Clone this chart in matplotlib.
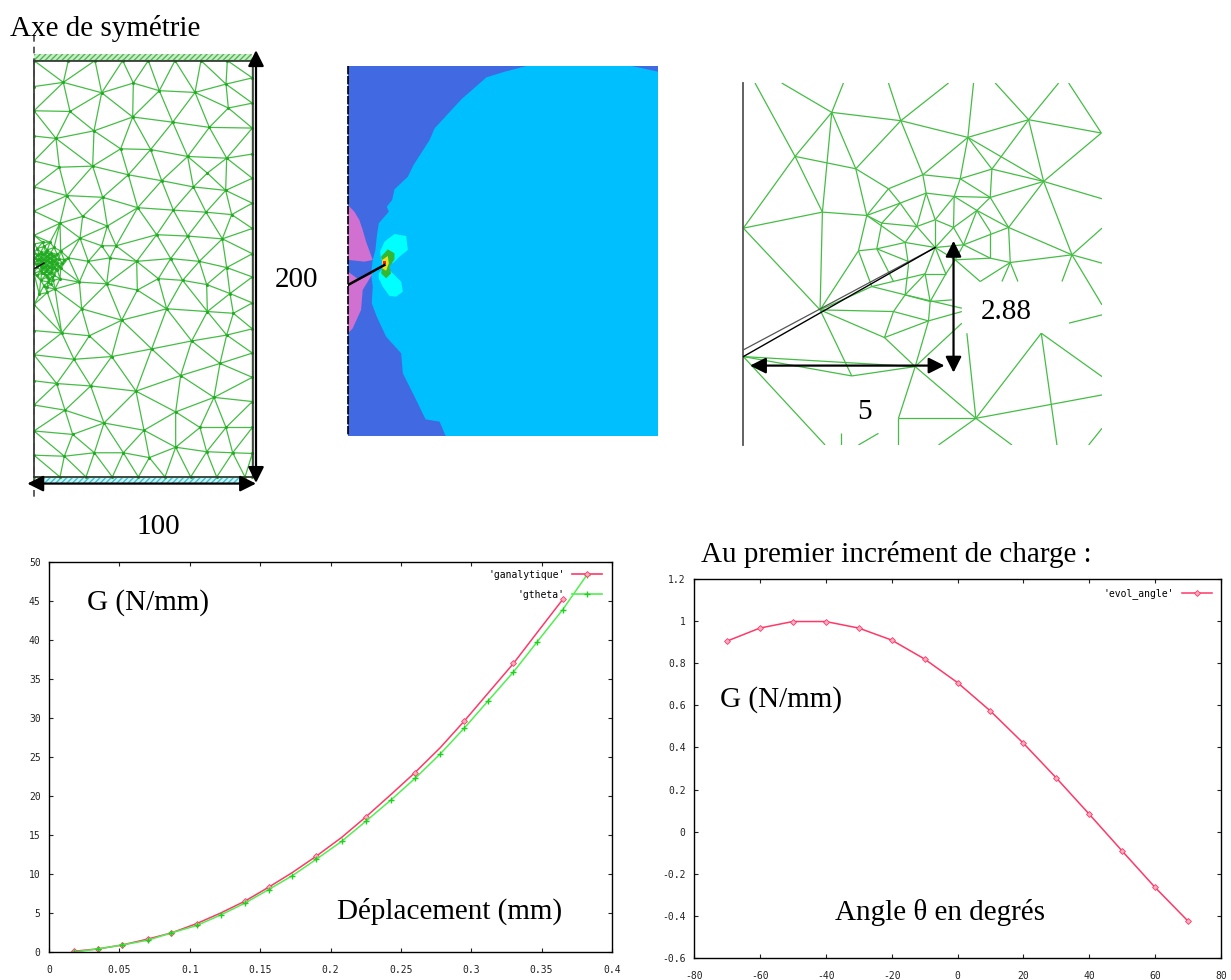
import matplotlib
matplotlib.use("Agg")
import matplotlib.pyplot as plt
import matplotlib.tri as mtri
from matplotlib.collections import LineCollection
from matplotlib.lines import Line2D
from matplotlib.patches import Rectangle

plt.rcParams["axes.unicode_minus"] = False

W, H = 1231, 980
SERIF = "Liberation Serif"
MONO = "DejaVu Sans Mono"
MESH_GREEN = "#45bd45"

# full mesh, nodes
mesh1_x = [102, 205, 285, 368, 445, 525, 603, 682, 757,
           102, 180, 258, 337, 415, 495, 572, 650, 735, 757,
           102, 102, 102, 102, 102, 102, 102, 102, 102, 102, 102, 102, 102, 102,
           757, 757, 757, 757, 757, 757, 757, 757, 757, 757, 757, 757, 757, 757, 757, 757,
           190, 305, 400, 478, 585, 678, 210, 398, 518, 628, 685, 282, 168, 362, 452, 563, 680,
           178, 278, 385, 485, 580, 677, 622, 200, 308, 413, 520, 618, 695, 180, 248, 322, 470,
           563, 667, 240, 348, 305, 265, 410, 512, 598, 680, 330, 320, 238, 180, 475, 548, 620,
           690, 412, 245, 500, 622, 700, 365, 575, 680, 185, 268, 455, 335, 222, 660, 542, 170,
           272, 408, 642, 195, 527, 312, 432, 678, 600, 218, 283, 370, 448, 527, 620, 698, 193]
mesh1_y = [175, 175, 175, 175, 175, 175, 175, 175, 175,
           1378, 1378, 1378, 1378, 1378, 1378, 1378, 1378, 1378, 1378,
           250, 320, 393, 465, 540, 610, 680, 880, 955, 1025, 1100, 1170, 1245, 1315,
           225, 298, 370, 445, 515, 587, 660, 733, 800, 875, 950, 1020, 1090, 1160, 1235, 1310,
           238, 268, 240, 262, 267, 243, 322, 338, 353, 368, 312, 378, 400, 430, 432, 452, 457,
           483, 480, 505, 522, 540, 550, 500, 565, 570, 600, 607, 613, 620, 645, 625, 653, 678,
           682, 690, 688, 710, 710, 755, 755, 747, 755, 773, 745, 820, 815, 805, 805, 810, 822,
           848, 838, 892, 892, 900, 905, 925, 985, 968, 962, 970, 1008, 1030, 1038, 1050, 1085, 1108,
           1115, 1130, 1148, 1185, 1190, 1222, 1243, 1235, 1235, 1255, 1308, 1308, 1322, 1292, 1305, 1308, 1318]
# refined patch round the crack tip
crack_x = [102, 102, 102, 102, 112, 112, 112, 112, 112, 122, 122, 122, 122, 122, 122, 132, 132, 132, 132,
           132, 132, 132, 142, 142, 142, 142, 142, 142, 142, 152, 152, 152, 152, 152, 152, 162, 162, 162,
           162, 162, 172, 172, 172, 182, 182, 192, 205, 150, 128, 165, 118, 140, 160,
           106, 110, 117, 117, 117, 127, 127, 127, 137, 137, 137, 137, 137, 147, 147, 147, 147, 147, 157, 157,
           157, 157, 167, 167, 167, 177, 177, 187, 127, 137, 147, 157, 125, 145]
crack_y = [705, 730, 760, 790, 718, 738, 752, 770, 795, 728, 742, 755, 768, 782, 810, 712, 735, 748, 760,
           772, 790, 825, 722, 740, 752, 765, 778, 800, 845, 730, 745, 758, 770, 785, 820, 715, 740, 755,
           770, 795, 735, 760, 780, 725, 775, 750, 745, 700, 700, 835, 850, 830, 810,
           745, 762, 735, 748, 762, 735, 750, 762, 728, 742, 755, 768, 782, 735, 746, 758, 771, 790, 738, 750,
           763, 778, 748, 763, 778, 748, 768, 760, 775, 795, 805, 800, 790, 815]

# zoomed mesh round the crack, one row per edge: x1, y1, x2, y2
mesh3_edges = [
    (60, 25, 180, 245), (140, 25, 290, 113), (325, 25, 290, 113), (460, 25, 497, 138), (640, 25, 497, 138),
    (715, 25, 698, 188), (780, 25, 880, 135), (970, 25, 880, 135), (1000, 25, 1098, 175), (290, 113, 497, 138),
    (497, 138, 698, 188), (698, 188, 880, 135), (880, 135, 1098, 175), (290, 113, 262, 412), (290, 113, 362, 282),
    (180, 245, 290, 113), (180, 245, 362, 282), (180, 245, 262, 412), (180, 245, 25, 460), (25, 460, 262, 412),
    (25, 460, 255, 705), (262, 412, 395, 422), (262, 412, 255, 705), (362, 282, 395, 422), (362, 282, 460, 342),
    (497, 138, 362, 282), (497, 138, 563, 300), (563, 300, 460, 342), (563, 300, 675, 312), (563, 300, 698, 188),
    (563, 300, 573, 355), (698, 188, 675, 312), (698, 188, 770, 283), (698, 188, 925, 320), (880, 135, 770, 283),
    (880, 135, 925, 320), (1098, 175, 925, 320), (770, 283, 675, 312), (770, 283, 925, 320), (770, 283, 765, 368),
    (925, 320, 765, 368), (925, 320, 820, 458), (925, 320, 1100, 372), (925, 320, 1010, 540), (675, 312, 657, 365),
    (675, 312, 765, 368), (460, 342, 395, 422), (460, 342, 495, 385), (395, 422, 495, 385), (495, 385, 573, 355),
    (573, 355, 657, 365), (657, 365, 765, 368), (573, 355, 545, 455), (495, 385, 545, 455), (657, 365, 655, 458),
    (657, 365, 600, 435), (573, 355, 600, 435), (765, 368, 725, 407), (657, 365, 725, 407), (765, 368, 820, 458),
    (725, 407, 820, 458), (725, 407, 655, 458), (725, 407, 685, 510), (725, 407, 765, 470), (765, 470, 765, 550),
    (820, 458, 685, 510), (820, 458, 825, 563), (820, 458, 1010, 540), (1010, 540, 1100, 460), (1010, 540, 1100, 565),
    (1010, 540, 825, 563), (1010, 540, 980, 620), (1010, 540, 1100, 690), (395, 422, 440, 445), (440, 445, 545, 455),
    (395, 422, 370, 528), (395, 422, 510, 503), (495, 385, 440, 445), (440, 445, 425, 522), (545, 455, 510, 503),
    (545, 455, 600, 518), (600, 435, 545, 455), (600, 435, 600, 518), (600, 435, 655, 458), (655, 458, 600, 518),
    (655, 458, 685, 510), (600, 518, 510, 503), (510, 503, 425, 522), (425, 522, 370, 528), (600, 518, 685, 510),
    (685, 510, 765, 550), (600, 518, 570, 597), (600, 518, 632, 597), (600, 518, 660, 555), (660, 555, 765, 550),
    (685, 510, 660, 555), (660, 555, 632, 597), (660, 555, 735, 620), (735, 620, 825, 563), (765, 550, 825, 563),
    (825, 563, 800, 620), (825, 563, 848, 620), (510, 503, 520, 570), (520, 570, 510, 660), (425, 522, 520, 560),
    (370, 528, 255, 705), (370, 528, 410, 635), (425, 522, 475, 620), (570, 597, 632, 597), (570, 597, 510, 660),
    (570, 597, 585, 680), (632, 597, 585, 680), (510, 660, 585, 680), (410, 635, 510, 660), (410, 635, 255, 705),
    (410, 635, 570, 597), (510, 660, 475, 710), (585, 680, 580, 738), (585, 680, 650, 675), (255, 705, 475, 710),
    (475, 710, 580, 738), (475, 710, 448, 788), (580, 738, 448, 788), (580, 738, 680, 710), (580, 738, 540, 875),
    (448, 788, 540, 875), (510, 660, 680, 700), (255, 705, 448, 788), (255, 705, 350, 903), (350, 903, 540, 875),
    (25, 845, 350, 903), (25, 845, 540, 875), (25, 845, 270, 1110), (540, 875, 680, 745), (540, 875, 722, 1030),
    (540, 875, 490, 1030), (490, 1030, 722, 1030), (490, 1030, 490, 1110), (722, 1030, 695, 775), (722, 1030, 918, 775),
    (722, 1030, 610, 1110), (722, 1030, 830, 1110), (722, 1030, 1100, 960), (918, 775, 965, 1110), (918, 775, 1100, 905),
    (1000, 745, 1100, 720), (1060, 1110, 1100, 1060), (318, 1110, 318, 1075), (370, 1110, 430, 1075),
]
crack3_x = [25, 600]
crack3_upper_y = [825, 518]
crack3_lower_y = [845, 518]

# contour levels of the middle panel, outlines
far_field_x = [560, 495, 440, 365, 285, 270, 222, 205, 165, 158, 142, 148, 118, 112, 108, 100, 95, 100, 97, 112, 140,
               185, 190, 225, 258, 300, 318, 953, 953, 875]
far_field_y = [18, 35, 52, 118, 205, 240, 315, 350, 388, 420, 440, 455, 490, 530, 570, 600, 640, 680, 730, 770, 830,
               880, 940, 1010, 1078, 1085, 1128, 1128, 35, 18]
pink_up_x = [26, 45, 60, 70, 80, 100, 75, 30, 26]
pink_up_y = [435, 455, 480, 510, 545, 600, 605, 600, 600]
pink_down_x = [26, 60, 100, 70, 65, 40, 26]
pink_down_y = [635, 660, 640, 690, 750, 805, 820]
lobe_up_x = [122, 135, 165, 200, 205, 180, 160, 140, 125]
lobe_up_y = [575, 545, 522, 528, 570, 590, 610, 600, 600]
lobe_down_x = [118, 130, 150, 185, 190, 170, 150, 130, 118]
lobe_down_y = [640, 625, 630, 665, 695, 710, 708, 680, 655]
green_x = [125, 145, 165, 165, 150, 155, 140, 125, 130]
green_y = [590, 568, 580, 598, 620, 640, 655, 640, 615]
yellow_x = [128, 145, 148, 140, 128]
yellow_y = [600, 588, 610, 632, 625]
red_x = [130, 140, 140, 130]
red_y = [602, 602, 612, 612]
crack2_x = [26, 135]
crack2_y = [675, 615]

# G against displacement
disp_red = [0.018, 0.035, 0.052, 0.07, 0.087, 0.105, 0.122, 0.139, 0.156, 0.173, 0.19, 0.208,
            0.225, 0.243, 0.26, 0.278, 0.295, 0.312, 0.33, 0.347, 0.365]
g_analytique = [0.1, 0.4, 0.9, 1.65, 2.45, 3.65, 5.0, 6.5, 8.3, 10.2, 12.3, 14.7,
                17.3, 20.2, 23.0, 26.2, 29.6, 33.2, 37.0, 41.0, 45.2]
red_marked = [0, 1, 2, 3, 4, 5, 7, 8, 10, 12, 14, 16, 18, 20]
disp_green = [0.018, 0.035, 0.052, 0.07, 0.087, 0.105, 0.122, 0.139, 0.156, 0.173, 0.19, 0.208,
              0.225, 0.243, 0.26, 0.278, 0.295, 0.312, 0.33, 0.347, 0.365, 0.382]
g_theta = [0.0, 0.4, 0.9, 1.5, 2.45, 3.4, 4.75, 6.25, 8.0, 9.8, 11.9, 14.2,
           16.75, 19.5, 22.25, 25.4, 28.7, 32.2, 35.9, 39.8, 43.9, 48.3]
left_xticks = [0, 0.05, 0.1, 0.15, 0.2, 0.25, 0.3, 0.35, 0.4]
left_xlabels = ["0", "0.05", "0.1", "0.15", "0.2", "0.25", "0.3", "0.35", "0.4"]
left_yticks = [0, 5, 10, 15, 20, 25, 30, 35, 40, 45, 50]

# G against angle
angle = [-70, -60, -50, -40, -30, -20, -10, 0, 10, 20, 30, 40, 50, 60, 70]
g_angle = [0.905, 0.967, 0.998, 0.998, 0.967, 0.91, 0.82, 0.708, 0.573, 0.42, 0.255, 0.083, -0.092, -0.265, -0.425]
right_xticks = [-80, -60, -40, -20, 0, 20, 40, 60, 80]
right_yticks = [-0.6, -0.4, -0.2, 0, 0.2, 0.4, 0.6, 0.8, 1, 1.2]
right_ylabels = ["-0.6", "-0.4", "-0.2", "0", "0.2", "0.4", "0.6", "0.8", "1", "1.2"]


def panel(fig, left, top, right, bottom):
    """Axes placed by picture pixels."""
    return fig.add_axes([left / W, 1 - bottom / H, (right - left) / W, (bottom - top) / H])


def arrow(ax, start, end):
    ax.annotate("", xy=end, xytext=start, annotation_clip=False,
                arrowprops=dict(arrowstyle="<|-|>", color="black", lw=1.6, mutation_scale=24,
                                shrinkA=0, shrinkB=0, clip_on=False))


def label(fig, x, y, s, size=21):
    fig.text(x / W, 1 - y / H, s, family=SERIF, fontsize=size, va="center", ha="left", color="black")


def gnuplot_axes(ax, xlim, ylim):
    ax.set_xlim(xlim)
    ax.set_ylim(ylim)
    ax.tick_params(direction="in", length=3, width=0.8, top=True, right=True, pad=6, labelsize=7, colors="#222222")
    ax.tick_params(axis="x", pad=9)
    for tick in ax.get_xticklabels() + ax.get_yticklabels():
        tick.set_family(MONO)
    for spine in ax.spines.values():
        spine.set_linewidth(1.0)


def draw_full_mesh(fig):
    ax = panel(fig, 0, 0, 320, 540)
    ax.set_xlim(0, 960)
    ax.set_ylim(1560, 0)
    ax.axis("off")
    ax.add_patch(Rectangle((102, 155), 655, 17, facecolor="#c8eec8", edgecolor="#55b555", hatch="//////", lw=0))
    ax.add_patch(Rectangle((130, 1380), 590, 15, facecolor="#c8f4f8", edgecolor="#40c0d0", hatch="//////", lw=0))
    tri = mtri.Triangulation(mesh1_x + crack_x, mesh1_y + crack_y)
    ax.triplot(tri, color=MESH_GREEN, lw=0.9, marker="o", ms=1.2, mfc="#22aa22", mec="#22aa22")
    ax.plot([102, 102], [100, 1440], color="#444444", lw=1.2, ls=(0, (4, 3)))
    ax.plot([102, 102], [175, 1378], color="#444444", lw=1.3)
    ax.plot([102, 757], [175, 175], color="#333333", lw=1.2)
    ax.plot([102, 757], [1378, 1378], color="#333333", lw=1.2)
    ax.plot([758, 758], [175, 1378], color="#333333", lw=1.2)
    ax.plot([105, 132], [775, 760], color="black", lw=1.0)
    arrow(ax, (768, 145), (768, 1395))
    arrow(ax, (82, 1397), (768, 1397))


def draw_contours(fig):
    ax = panel(fig, 348, 66, 658, 436)
    ax.set_xlim(26, 953)
    ax.set_ylim(1128, 18)
    ax.axis("off")
    ax.add_patch(Rectangle((26, 18), 927, 1110, color="#4169e1", lw=0))
    ax.fill(far_field_x, far_field_y, color="#00bfff", lw=0)
    ax.fill(pink_up_x, pink_up_y, color="#d070d0", lw=0)
    ax.fill(pink_down_x, pink_down_y, color="#d070d0", lw=0)
    ax.fill(lobe_up_x, lobe_up_y, color="#00ffff", lw=0)
    ax.fill(lobe_down_x, lobe_down_y, color="#00ffff", lw=0)
    ax.fill(green_x, green_y, color="#33b833", lw=0)
    ax.fill(yellow_x, yellow_y, color="#f0e020", lw=0)
    ax.fill(red_x, red_y, color="#ee2020", lw=0)
    ax.plot(crack2_x, crack2_y, color="black", lw=1.8)
    ax.plot([26, 26], [18, 1128], color="black", lw=1.2, ls=(0, (5, 1)), clip_on=False)


def draw_zoomed_mesh(fig):
    ax = panel(fig, 743, 83, 1102, 445)
    ax.set_xlim(24, 1100)
    ax.set_ylim(1110, 25)
    ax.axis("off")
    segments = [[(x1, y1), (x2, y2)] for x1, y1, x2, y2 in mesh3_edges]
    ax.add_collection(LineCollection(segments, colors=MESH_GREEN, linewidths=0.9))
    # the labels sit on white boxes that hide part of the mesh
    ax.add_patch(Rectangle((680, 622), 320, 152, color="white", lw=0, zorder=3))
    ax.add_patch(Rectangle((300, 925), 180, 150, color="white", lw=0, zorder=3))
    ax.plot([24, 24], [25, 1110], color="#555555", lw=1.3, clip_on=False, zorder=4)
    ax.plot(crack3_x, crack3_upper_y, color="#555555", lw=0.9, zorder=4)
    ax.plot(crack3_x, crack3_lower_y, color="black", lw=1.0, zorder=4)
    ax.set_zorder(2)
    arrow(ax, (45, 872), (628, 872))
    arrow(ax, (655, 498), (655, 893))


def draw_displacement_plot(fig):
    ax = panel(fig, 49, 562, 612, 952)
    ax.set_xticks(left_xticks, left_xlabels)
    ax.set_yticks(left_yticks)
    ax.plot(disp_red, g_analytique, color="#ff3868", lw=1.1, marker="D", ms=3, mfc="#ffb0c0", mec="#ff3868",
            mew=0.6, markevery=red_marked)
    ax.plot(disp_green, g_theta, color="#50f050", lw=1.1, marker="+", ms=5, mec="#20d020", mew=1.0)
    gnuplot_axes(ax, (0, 0.4), (0, 50))
    handles = [Line2D([], [], color="#ff3868", lw=1.2, marker="D", ms=3, mfc="#ffb0c0", mec="#ff3868", mew=0.6),
               Line2D([], [], color="#50f050", lw=1.2, marker="+", ms=5, mec="#20d020", mew=1.0)]
    ax.legend(handles, ["'ganalytique'", "'gtheta'"], loc="upper right", bbox_to_anchor=(0.99, 0.99), frameon=False,
              markerfirst=False, prop=dict(family=MONO, size=7), handlelength=3.1, labelspacing=1.0,
              handletextpad=0.8, borderaxespad=0.0)


def draw_angle_plot(fig):
    ax = panel(fig, 694, 579, 1221, 958)
    ax.set_xticks(right_xticks)
    ax.set_yticks(right_yticks, right_ylabels)
    ax.plot(angle, g_angle, color="#ff3868", lw=1.1, marker="D", ms=3, mfc="#ffb0c0", mec="#ff3868", mew=0.6,
            label="'evol_angle'")
    gnuplot_axes(ax, (-80, 80), (-0.6, 1.2))
    ax.legend(loc="upper right", bbox_to_anchor=(0.99, 0.985), frameon=False, markerfirst=False,
              prop=dict(family=MONO, size=7), handlelength=3.1, handletextpad=0.8, borderaxespad=0.0)


def main():
    fig = plt.figure(figsize=(W / 100, H / 100), dpi=100, facecolor="white")
    draw_full_mesh(fig)
    draw_contours(fig)
    draw_zoomed_mesh(fig)
    draw_displacement_plot(fig)
    draw_angle_plot(fig)

    label(fig, 10, 29, "Axe de symétrie")
    label(fig, 275, 280, "200")
    label(fig, 136, 527, "100")
    label(fig, 981, 312, "2.88")
    label(fig, 857, 412, "5")
    label(fig, 87, 603, "G (N/mm)")
    label(fig, 337, 911, "Déplacement (mm)")
    label(fig, 701, 554, "Au premier incrément de charge :")
    label(fig, 720, 700, "G (N/mm)")
    label(fig, 835, 912, "Angle θ en degrés")

    fig.savefig("out.png", dpi=100)


if __name__ == "__main__":
    main()
